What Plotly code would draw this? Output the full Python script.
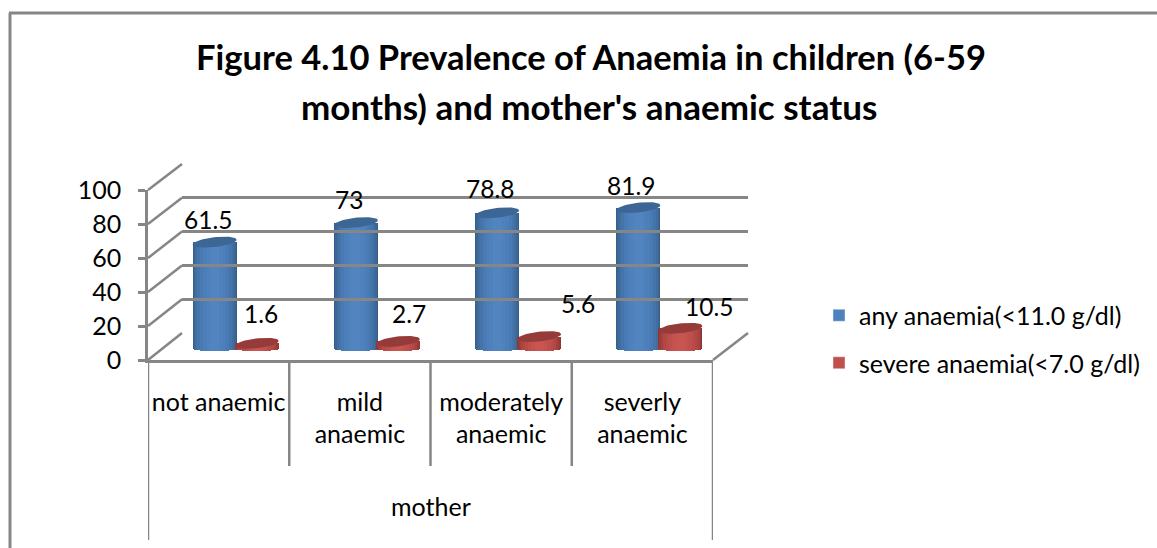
import numpy as np
import plotly.graph_objects as go

categories = ["not anaemic", "mild<br>anaemic", "moderately<br>anaemic", "severly<br>anaemic"]
group_label = "mother"
any_anaemia = [61.5, 73, 78.8, 81.9]
severe_anaemia = [1.6, 2.7, 5.6, 10.5]
series_names = ["any anaemia(<11.0 g/dl)", "severe anaemia(<7.0 g/dl)"]
y_ticks = [0, 20, 40, 60, 80, 100]
title_lines = ["Figure 4.10 Prevalence of Anaemia in children (6-59", "months) and mother's anaemic status"]

W, H = 1157, 548
GREY = "#868686"
FONT = "Lato"

def fx(p): return p / W
def fy(p): return 1 - p / H

# strip colours (edge to centre) for the cylinder shading
blue_strips = ["#365e8c", "#3b6696", "#406ea1", "#4574ab", "#497ab3", "#4c7eb9", "#4f81bd", "#5284c0"]
red_strips = ["#8c3735", "#983c3a", "#a54240", "#b04745", "#b84b48", "#be4f4c", "#c4524f", "#c85552"]
strip_frac = [1.0, 0.95, 0.88, 0.78, 0.66, 0.52, 0.36, 0.2]

BAR_W = 44 / 141.25
BAR_OFF = 21 / 141.25
TOP_TILT = 1.4   # value units
ELL_H = 2.9
BASE_EDGE = 1.8
BASE_DIP = 1.2

fig = go.Figure()
xs = np.arange(4)

def cylinder(vals, off, strips, top_col, name, group, legend_col):
    vals = np.array(vals, float)
    for col, fr in zip(strips, strip_frac):
        dip = BASE_EDGE + BASE_DIP * np.sqrt(max(0, 1 - fr ** 2))
        fig.add_trace(go.Bar(
            x=xs + off, y=vals + dip, base=[-dip] * 4, width=BAR_W * fr,
            marker=dict(color=col, line=dict(width=0)),
            name=name, legendgroup=group, showlegend=False, hoverinfo="skip",
            xaxis="x", yaxis="y2"))
    # legend entry: plain colour
    fig.add_trace(go.Bar(x=[None], y=[None], name=name, legendgroup=group,
                         marker=dict(color=legend_col), showlegend=True,
                         xaxis="x", yaxis="y2"))
    # tilted top ellipse
    t = np.linspace(0, 2 * np.pi, 60)
    for x0, v in zip(xs + off, vals):
        ex = x0 + BAR_W / 2 * np.cos(t)
        ey = v + ELL_H * np.sin(t) + TOP_TILT * np.cos(t)
        fig.add_trace(go.Scatter(x=ex, y=ey, mode="lines", fill="toself", fillcolor=top_col,
                                 line=dict(width=0, color=top_col), showlegend=False,
                                 hoverinfo="skip", xaxis="x", yaxis="y2"))

cylinder(any_anaemia, -BAR_OFF, blue_strips, "#3c6694", series_names[0], "a", "#4f81bd")
cylinder(severe_anaemia, BAR_OFF, red_strips, "#953b39", series_names[1], "b", "#c0504d")

# helper traces so the front and back-wall axes exist
fig.add_trace(go.Scatter(x=[0, 3], y=[0, 100], mode="markers", marker=dict(opacity=0),
                         showlegend=False, hoverinfo="skip", xaxis="x2", yaxis="y"))
fig.add_trace(go.Scatter(x=[0, 1], y=[0, 100], mode="markers", marker=dict(opacity=0),
                         showlegend=False, hoverinfo="skip", xaxis="x3", yaxis="y3"))

ann = []
# data labels
blue_dx = [-7, -7, -7, -7]
blue_dy = [23, 23, 24, 22]
red_dx = [4, 11, 39, 29]
red_dy = [30, 28, 33, 22]
for vals, off, dxs, dys in [(any_anaemia, -BAR_OFF, blue_dx, blue_dy), (severe_anaemia, BAR_OFF, red_dx, red_dy)]:
    for i, v in enumerate(vals):
        ann.append(dict(x=i + off, y=v, xref="x", yref="y2", text=str(v), showarrow=False,
                        xanchor="center", yanchor="middle",
                        xshift=dxs[i], yshift=dys[i], font=dict(size=24.5, color="#000", family=FONT)))
ann.append(dict(x=430.5 / W, y=fy(506), xref="paper", yref="paper", text=group_label, showarrow=False,
                xanchor="center", yanchor="middle", font=dict(size=25, color="#000", family=FONT)))
# second title line
ann.append(dict(x=589 / W, y=fy(106), xref="paper", yref="paper", text=title_lines[1], showarrow=False,
                xanchor="center", yanchor="middle",
                font=dict(size=35, color="#000", family=FONT, weight="bold")))

line = dict(color=GREY, width=2.5)
shapes = []
# chart frame
shapes.append(dict(type="line", xref="paper", yref="paper", x0=fx(9), x1=fx(1157), y0=fy(13), y1=fy(13), line=dict(color=GREY, width=3)))
shapes.append(dict(type="line", xref="paper", yref="paper", x0=fx(10), x1=fx(10), y0=fy(13), y1=0, line=dict(color=GREY, width=3)))
# side-wall diagonals
for t in y_ticks:
    yf = 360 - 1.7 * t
    yb = 333 - 1.69 * t
    shapes.append(dict(type="line", xref="paper", yref="paper", x0=fx(148), x1=fx(182), y0=fy(yf), y1=fy(yb), line=line, layer="below"))
shapes.append(dict(type="line", xref="paper", yref="paper", x0=fx(713), x1=fx(748), y0=fy(360), y1=fy(333), line=line, layer="below"))
# category separators
for i in range(5):
    x = i - 0.5
    bottom = 540 if i in (0, 4) else 466
    shapes.append(dict(type="line", xref="x2", yref="paper", x0=x, x1=x, y0=fy(360), y1=fy(bottom), line=line))

hidden = dict(showgrid=False, zeroline=False, showticklabels=False, ticks="", showline=False, fixedrange=True, automargin=False)

fig.update_layout(
    width=W, height=H, autosize=False,
    margin=dict(l=0, r=0, t=0, b=0),
    paper_bgcolor="white", plot_bgcolor="rgba(0,0,0,0)",
    barmode="overlay", bargap=0,
    font=dict(family=FONT, color="#000"),
    title=dict(text=title_lines[0], x=591 / W, xanchor="center", y=fy(58), yanchor="middle", automargin=False,
               font=dict(size=34.5, color="#000", family=FONT, weight="bold")),
    # back wall (grid) axes
    xaxis3=dict(domain=[fx(182), fx(748)], range=[0, 1], anchor="y3", **hidden),
    yaxis3=dict(domain=[fy(333), fy(164)], range=[0, 100], anchor="x3", showgrid=True, gridcolor=GREY, gridwidth=2.5,
                dtick=20, zeroline=False, showticklabels=False, ticks="", showline=False, fixedrange=True, automargin=False),
    # front axes
    xaxis2=dict(domain=[fx(148), fx(713)], range=[-0.5, 3.5], anchor="y", tickmode="array", automargin=False,
                tickvals=list(range(4)), ticktext=categories, tickfont=dict(size=25, color="#000", family=FONT),
                ticks="outside", ticklen=18, tickcolor="rgba(0,0,0,0)", showline=True, linecolor=GREY, linewidth=2.5,
                showgrid=False, zeroline=False, fixedrange=True),
    yaxis=dict(domain=[fy(360), fy(190)], range=[0, 100], anchor="x2", tickvals=y_ticks, automargin=False,
               tickfont=dict(size=25, color="#000", family=FONT), ticks="outside", ticklen=7, tickcolor=GREY, tickwidth=2.5,
               ticklabelstandoff=12, showline=True, linecolor=GREY, linewidth=2.5, showgrid=False, zeroline=False, fixedrange=True),
    # bar axes, shifted half way into the depth; the range runs a little below zero for the curved base
    xaxis=dict(domain=[fx(165), fx(730)], range=[-0.5, 3.5], anchor="y2", **hidden),
    yaxis2=dict(domain=[fy(354.45), fy(177)], range=[-5, 100], anchor="x", **hidden),
    legend=dict(x=fx(819), y=fy(339), yanchor="middle", xanchor="left", traceorder="grouped", tracegroupgap=12,
                font=dict(size=25, color="#000", family=FONT), bgcolor="rgba(0,0,0,0)"),
    annotations=ann, shapes=shapes,
)

fig.write_html("out.html", config={"displayModeBar": False},
               post_script="document.body.style.margin='0';document.body.style.overflow='hidden';")
